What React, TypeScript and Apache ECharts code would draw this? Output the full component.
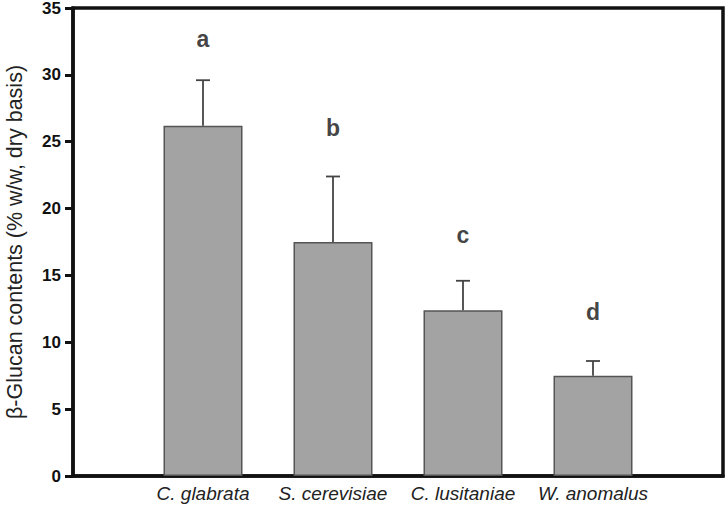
import React, { useEffect, useRef } from "react";
import * as echarts from "echarts";

const categories = ["C. glabrata", "S. cerevisiae", "C. lusitaniae", "W. anomalus"];
const means = [26.2, 17.5, 12.4, 7.5];
const errors = [3.4, 4.9, 2.2, 1.1];
const letters = ["a", "b", "c", "d"];
const letterValues = [32.7, 26.0, 18.0, 12.3];
const yTicks = [0, 5, 10, 15, 20, 25, 30, 35];

export default function App() {
  const ref = useRef<HTMLDivElement>(null);
  useEffect(() => {
    if (!ref.current) return;
    document.body.style.margin = "0";
    const chart = echarts.init(ref.current, null, { renderer: "svg" });
    const barData = means.map((v, i) => [i + 1, v]);
    const errData = means.map((v, i) => [i + 1, v, v + errors[i]]);
    const letterData = letterValues.map((v, i) => [i + 1, v, letters[i]]);
    const font = "Liberation Sans, Arial, sans-serif";
    chart.setOption({
      animation: false,
      backgroundColor: "#ffffff",
      grid: {
        left: 73,
        right: 3,
        top: 8,
        bottom: 31,
        containLabel: false,
        outerBoundsMode: "none",
        show: true,
        borderColor: "#111",
        borderWidth: 3.5,
        backgroundColor: "transparent",
      },
      xAxis: {
        type: "value",
        min: 0,
        max: 5,
        interval: 1,
        splitLine: { show: false },
        axisTick: { show: false },
        axisLine: { lineStyle: { color: "#111", width: 3.5 } },
        axisLabel: {
          margin: 8,
          fontFamily: font,
          fontStyle: "italic",
          fontSize: 19,
          color: "#222",
          showMinLabel: false,
          showMaxLabel: false,
          formatter: (v: number) => (v >= 1 && v <= 4 ? categories[v - 1] : ""),
        },
      },
      yAxis: {
        type: "value",
        min: 0,
        max: 35,
        interval: 5,
        splitLine: { show: false },
        axisLine: { lineStyle: { color: "#111", width: 3.5 } },
        axisTick: { show: true, length: 8, lineStyle: { color: "#111", width: 3 } },
        axisLabel: {
          margin: 12,
          fontFamily: font,
          fontWeight: "bold",
          fontSize: 17,
          color: "#111",
          formatter: (v: number) => (yTicks.includes(v) ? String(v) : ""),
        },
        name: "β-Glucan contents (% w/w, dry basis)",
        nameLocation: "middle",
        nameGap: 47,
        nameTextStyle: {
          fontFamily: font,
          fontSize: 21.5,
          color: "#222",
        },
      },
      series: [
        {
          type: "bar",
          data: barData,
          barWidth: 79,
          itemStyle: { color: "#a3a3a3", borderColor: "#555", borderWidth: 1.5 },
        },
        {
          type: "custom",
          data: errData,
          renderItem: (params: any, api: any) => {
            const x = api.value(0);
            const lo = api.coord([x, api.value(1)]);
            const hi = api.coord([x, api.value(2)]);
            const half = 7;
            return {
              type: "group",
              children: [
                {
                  type: "line",
                  shape: { x1: lo[0], y1: lo[1], x2: hi[0], y2: hi[1] },
                  style: { stroke: "#444", lineWidth: 1.8 },
                },
                {
                  type: "line",
                  shape: { x1: hi[0] - half, y1: hi[1], x2: hi[0] + half, y2: hi[1] },
                  style: { stroke: "#444", lineWidth: 1.8 },
                },
              ],
            };
          },
          z: 3,
        },
        {
          type: "scatter",
          data: letterData,
          symbolSize: 0,
          itemStyle: { color: "transparent" },
          label: {
            show: true,
            position: "inside",
            formatter: (p: any) => p.value[2],
            fontFamily: font,
            fontWeight: "bold",
            fontSize: 23,
            color: "#111",
            textBorderWidth: 0,
          },
        },
      ],
    });
    return () => chart.dispose();
  }, []);
  return <div ref={ref} style={{ width: 726, height: 507 }} />;
}
